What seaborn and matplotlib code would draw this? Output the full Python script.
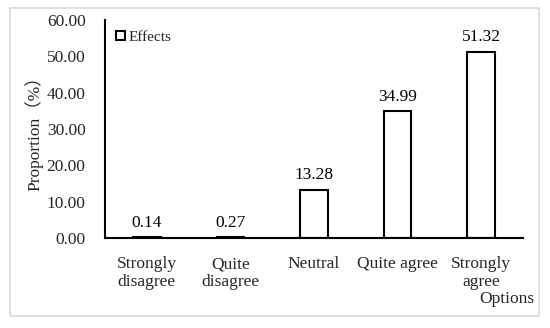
import matplotlib
matplotlib.use("Agg")
import matplotlib.pyplot as plt
import seaborn as sns
import pandas as pd
from matplotlib.patches import Rectangle

options = ["Strongly\ndisagree", "Quite\ndisagree", "Neutral", "Quite agree", "Strongly\nagree"]
effects = [0.14, 0.27, 13.28, 34.99, 51.32]
yticks = [0, 10, 20, 30, 40, 50, 60]

sns.set_theme(style="white")
plt.rcParams['font.family'] = ['Liberation Serif', 'Noto Sans CJK SC']

df = pd.DataFrame({"Options": options, "Effects": effects})

fig = plt.figure(figsize=(5.5, 3.28), dpi=100)
ax = fig.add_axes([105/550, 1-238/328, (523-105)/550, (238-20)/328])

sns.barplot(data=df, x="Options", y="Effects", color="white", edgecolor="black",
            linewidth=1.5, width=0.33, ax=ax, label="Effects", saturation=1)

for p, v in zip(ax.patches, effects):
    ax.annotate(f"{v:.2f}", (p.get_x() + p.get_width()/2, p.get_height()),
                xytext=(0, 4.5), textcoords="offset points", ha="center", va="bottom",
                fontsize=12.5, color="black")

ax.set_ylim(0, 60)
ax.set_yticks(yticks)
ax.set_yticklabels([f"{t:.2f}" for t in yticks], fontsize=12.5)
ax.tick_params(axis="x", labelsize=12.5, length=0, pad=13)
ax.tick_params(axis="y", length=0, pad=14)
for lbl in ax.get_xticklabels():
    lbl.set_linespacing(1.15)
ax.set_xlabel("")
ax.set_ylabel("Proportion（%）", fontsize=12.5, labelpad=2)
fig.text(534/550, 1-299/328, "Options", ha="right", va="center", fontsize=12.5)

for s in ["top", "right"]:
    ax.spines[s].set_visible(False)
for s in ["left", "bottom"]:
    ax.spines[s].set_color("black")
    ax.spines[s].set_linewidth(1.5)

leg = ax.legend(loc="upper left", frameon=False, fontsize=11, handlelength=0.6,
                handleheight=0.6, handletextpad=0.25, borderaxespad=0.3,
                bbox_to_anchor=(0.0, 1.0))

fig.patches.append(Rectangle((10/550, 1-316/328), (539-10)/550, (316-8)/328,
                             transform=fig.transFigure, fill=False,
                             edgecolor="#d9d9d9", linewidth=1.2))

fig.savefig("out.png", dpi=100, facecolor="white")
